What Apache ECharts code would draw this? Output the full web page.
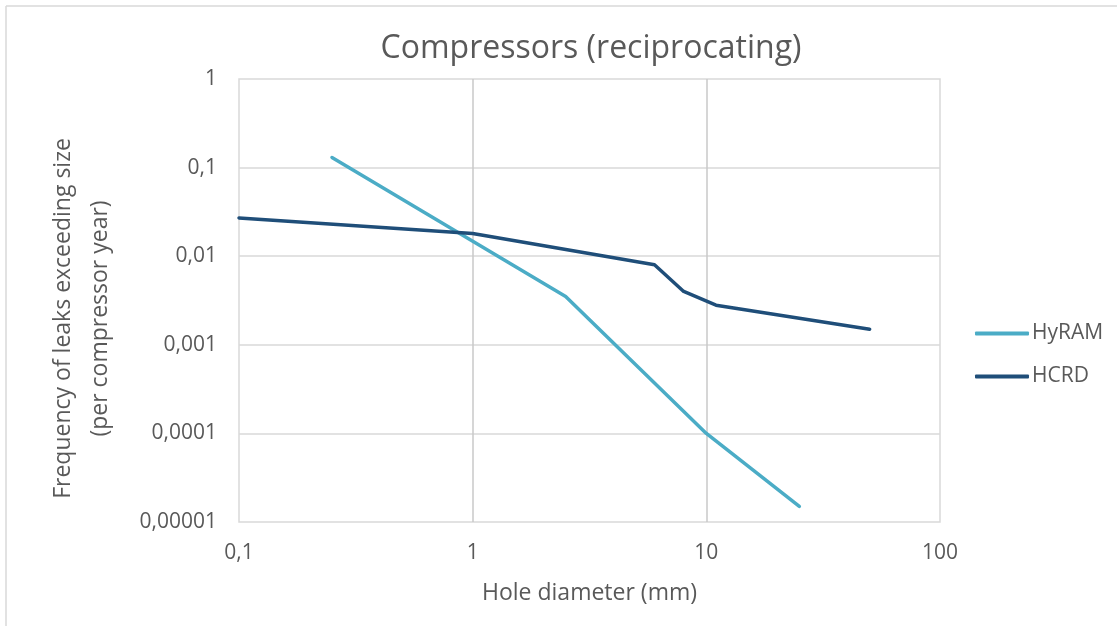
<!DOCTYPE html>
<html>
<head>
<meta charset="utf-8">
<script src="https://cdn.jsdelivr.net/npm/echarts@6/dist/echarts.min.js"></script>
<style>
html,body{margin:0;padding:0;background:#fff;}
#c{width:1117px;height:626px;}
</style>
</head>
<body>
<div id="c"></div>
<script>
// Data
const hyramX = [0.25, 2.5, 10, 25];
const hyramY = [0.13, 0.0035, 0.0001, 0.000015];
const hcrdX = [0.1, 1, 6, 8, 11, 50];
const hcrdY = [0.027, 0.018, 0.008, 0.004, 0.0028, 0.0015];
const seriesNames = ['HyRAM', 'HCRD'];
const xRange = [0.1, 100];
const yRange = [0.00001, 1];

const FONT = 'Open Sans';
const TXT = '#595959';

function fmt(v) {
  const d = Math.max(0, -Math.round(Math.log10(v)));
  return v.toFixed(d).replace('.', ',');
}
function pairs(xs, ys) { return xs.map((x, i) => [x, ys[i]]); }

const chart = echarts.init(document.getElementById('c'), null, {renderer: 'canvas'});
chart.setOption({
  backgroundColor: '#fff',
  animation: false,
  title: {
    text: 'Compressors (reciprocating)',
    left: 586, top: 28, textAlign: 'center',
    textStyle: {fontFamily: FONT, fontSize: 32, fontWeight: 'normal', color: TXT}
  },
  legend: {
    orient: 'vertical', left: 970, top: 318, itemGap: 22,
    itemWidth: 54, itemHeight: 4, icon: 'roundRect',
    textStyle: {fontFamily: FONT, fontSize: 21, color: TXT, padding: [0, 0, 0, -2]},
    data: seriesNames
  },
  grid: {
    left: 239, right: 177, top: 79, bottom: 104,
    show: true, borderColor: '#d9d9d9', borderWidth: 1.5
  },
  xAxis: {
    type: 'log', logBase: 10, min: xRange[0], max: xRange[1],
    name: 'Hole diameter (mm)', nameLocation: 'middle', nameGap: 60,
    nameTextStyle: {fontFamily: FONT, fontSize: 23, color: TXT},
    axisLine: {show: false}, axisTick: {show: false},
    axisLabel: {fontFamily: FONT, fontSize: 21, color: TXT, margin: 21, formatter: fmt},
    splitLine: {show: true, showMinLine: false, showMaxLine: false, lineStyle: {color: '#c8c8c8', width: 1.5}}
  },
  yAxis: {
    type: 'log', logBase: 10, min: yRange[0], max: yRange[1],
    name: 'Frequency of leaks exceeding size\n(per compressor year)',
    nameLocation: 'middle', nameGap: 120,
    nameTextStyle: {fontFamily: FONT, fontSize: 23, color: TXT, lineHeight: 37, padding: [0, 36, 0, 0]},
    axisLine: {show: false}, axisTick: {show: false},
    axisLabel: {fontFamily: FONT, fontSize: 21, color: TXT, margin: 22, formatter: fmt},
    splitLine: {show: true, showMinLine: false, showMaxLine: false, lineStyle: {color: '#d9d9d9', width: 1.5}}
  },
  graphic: [
    {type: 'line', shape: {x1: 6, y1: 6, x2: 1117, y2: 6}, style: {stroke: '#d9d9d9', lineWidth: 1.5}},
    {type: 'line', shape: {x1: 6, y1: 6, x2: 6, y2: 626}, style: {stroke: '#d9d9d9', lineWidth: 1.5}}
  ],
  series: [
    {
      name: seriesNames[0], type: 'line', data: pairs(hyramX, hyramY),
      symbol: 'none', color: '#4BACC6',
      lineStyle: {width: 3.5, cap: 'round', join: 'round', color: '#4BACC6'}
    },
    {
      name: seriesNames[1], type: 'line', data: pairs(hcrdX, hcrdY),
      symbol: 'none', color: '#1F4E79',
      lineStyle: {width: 3.5, cap: 'round', join: 'round', color: '#1F4E79'}
    }
  ]
});
</script>
</body>
</html>
